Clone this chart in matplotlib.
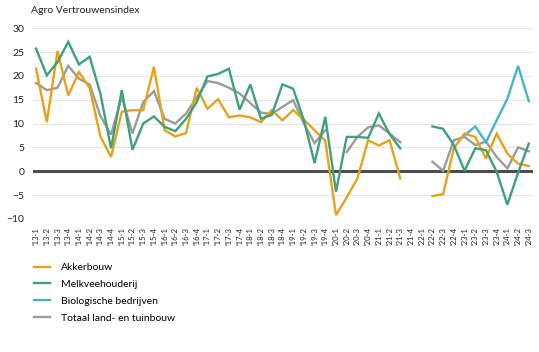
import numpy as np
import matplotlib
matplotlib.use("Agg")
import matplotlib.pyplot as plt

nan = np.nan

quarters = [f"'{y}-{q}" for y in range(13, 25) for q in range(1, 5)][:47]

akkerbouw = [21.5, 10.3, 25.2, 15.9, 20.8, 17.5, 7.3, 3.0, 12.5, 12.8,
             12.8, 21.9, 8.6, 7.3, 8.0, 17.5, 13.1, 15.1, 11.3, 11.7,
             11.3, 10.3, 12.8, 10.7, 12.8, 10.8, 8.6, 6.4, -9.2, -5.5,
             -1.5, 6.5, 5.4, 6.5, -1.5, nan, nan, -5.2, -4.8, 4.8,
             7.9, 7.2, 2.7, 7.9, 3.7, 1.6, 1.1]

melkvee = [25.7, 20.1, 22.9, 27.1, 22.4, 24.0, 16.3, 4.8, 17.0, 4.5,
           10.0, 11.5, 9.3, 8.4, 11.0, 14.5, 19.9, 20.4, 21.5, 12.9,
           18.2, 11.0, 11.8, 18.2, 17.3, 10.7, 1.7, 11.4, -4.3, 7.2,
           7.2, 7.0, 12.1, 7.8, 4.8, nan, nan, 9.4, 8.9, 5.5,
           0.1, 4.8, 4.4, -0.1, -7.0, -0.3, 5.8]

biologisch = [nan] * 40 + [7.5, 9.4, 6.1, 10.7, 15.2, 22.1, 14.7]

totaal = [18.5, 17.0, 17.5, 22.1, 19.4, 18.2, 11.6, 7.7, 15.6, 7.9,
          14.5, 16.8, 11.0, 10.0, 12.1, 15.5, 18.9, 18.5, 17.5, 16.3,
          14.3, 12.3, 12.0, 13.5, 14.9, 10.0, 5.9, 8.6, nan, 4.0,
          7.2, 9.2, 9.6, 7.9, 6.1, nan, nan, 2.0, 0.1, 6.5,
          7.2, 5.5, 6.2, 3.0, 0.6, 5.0, 4.2]

series = [
    ("Akkerbouw", akkerbouw, "#E8A21A"),
    ("Melkveehouderij", melkvee, "#3FA07E"),
    ("Biologische bedrijven", biologisch, "#47B3CF"),
    ("Totaal land- en tuinbouw", totaal, "#9B9B9B"),
]

plt.rcParams['font.family'] = ['Lato', 'DejaVu Sans']

fig = plt.figure(figsize=(5.39, 3.52), dpi=100)
ax = fig.add_axes([0.061, 0.378, 0.928, 0.542])

x = np.arange(len(quarters))
handles = []
for name, vals, col in [series[3], series[2], series[0], series[1]]:
    ax.plot(x, np.array(vals, dtype=float), color=col, lw=1.7, solid_joinstyle='miter', zorder=3)
for name, vals, col in series:
    h, = ax.plot([], [], color=col, lw=1.7, label=name)
    handles.append(h)

ax.set_xlim(-0.3, len(quarters) - 0.6)
ax.set_ylim(-10, 30)
ax.set_yticks([-10, -5, 0, 5, 10, 15, 20, 25, 30])
ax.yaxis.grid(True, color="#E6E6E6", lw=0.8)
ax.set_axisbelow(True)
ax.axhline(0, color="#4D4D4D", lw=2.2, zorder=2)
for s in ax.spines.values():
    s.set_visible(False)
ax.tick_params(axis='y', length=0, labelsize=7.5, pad=6, colors="#222222")
ax.set_xticks(x)
ax.set_xticklabels(quarters, rotation=90, fontsize=5.6, color="#222222")
ax.tick_params(axis='x', length=0, pad=6)

fig.text(0.057, 0.97, "Agro Vertrouwensindex", fontsize=7.5, color="#222222",
         ha='left', va='center')

fig.legend(handles=handles, loc='upper left', bbox_to_anchor=(0.055, 0.265),
           frameon=False, fontsize=7.5, handlelength=1.6, handletextpad=1.0,
           labelspacing=0.72, borderaxespad=0)

fig.savefig("out.png", dpi=100)
